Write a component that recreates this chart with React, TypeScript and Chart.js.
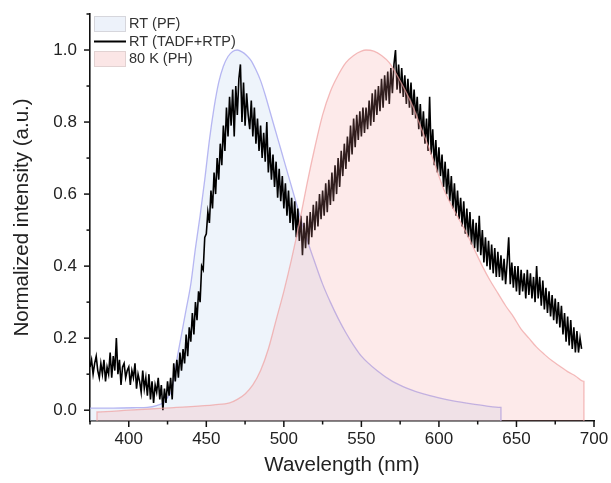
import React, { useEffect, useRef } from "react";
import { Chart, registerables } from "chart.js";

Chart.register(...registerables);

// ---- axis ranges & ticks ----
const X_MIN = 375;
const X_MAX = 700;
const Y_MIN = -0.03;
const Y_MAX = 1.1;
const X_TICKS = [400, 450, 500, 550, 600, 650, 700];
const X_MINOR_TICKS = [375, 425, 475, 525, 575, 625, 675];
const Y_TICKS = [0, 0.2, 0.4, 0.6, 0.8, 1.0];
const Y_MINOR_TICKS = [0.1, 0.3, 0.5, 0.7, 0.9, 1.1];

// ---- series labels ----
const SERIES_LABELS = ["RT (PF)", "RT (TADF+RTP)", "80 K (PH)"];

// ---- RT (PF) prompt fluorescence ----
const PF_WAVELENGTH = [
  375, 390, 405, 412, 418, 422, 425, 428, 431, 434, 437, 440, 443, 446, 449, 452, 455, 458, 461, 464, 467,
  470, 473, 476, 479, 482, 485, 488, 491, 494, 497, 500, 503, 506, 509, 512, 516, 520, 525, 530, 535, 540,
  545, 550, 560, 570, 580, 590, 600, 610, 620, 630, 640, 640,
];
const PF_INTENSITY = [
  0.006, 0.006, 0.007, 0.008, 0.013, 0.02, 0.035, 0.06, 0.14, 0.21, 0.28, 0.35, 0.45, 0.54, 0.64, 0.75, 0.84,
  0.91, 0.955, 0.982, 0.996, 1.0, 0.995, 0.985, 0.97, 0.945, 0.915, 0.875, 0.83, 0.785, 0.74, 0.695, 0.65,
  0.605, 0.56, 0.515, 0.46, 0.41, 0.35, 0.3, 0.255, 0.215, 0.18, 0.15, 0.11, 0.08, 0.06, 0.045, 0.034, 0.025,
  0.018, 0.012, 0.008, -0.03,
];

// ---- 80 K (PH) phosphorescence ----
const PH_WAVELENGTH = [
  379.5, 379.5, 400, 420, 440, 455, 465, 470, 475, 480, 485, 490, 495, 500, 505, 510, 515, 520, 525, 530, 535,
  540, 545, 550, 553, 558, 563, 568, 573, 578, 583, 588, 593, 598, 603, 608, 613, 618, 623, 628, 633, 638, 643,
  648, 653, 658, 663, 668, 673, 678, 683, 688, 693.5, 693.5,
];
const PH_INTENSITY = [
  -0.03, -0.005, 0.0, 0.005, 0.01, 0.015, 0.02, 0.03, 0.045, 0.07, 0.11, 0.17, 0.25, 0.33, 0.42, 0.52, 0.63,
  0.73, 0.82, 0.885, 0.93, 0.965, 0.985, 0.997, 1.0, 0.997, 0.985, 0.965, 0.93, 0.89, 0.845, 0.79, 0.735, 0.675,
  0.615, 0.57, 0.53, 0.49, 0.445, 0.4, 0.36, 0.325, 0.29, 0.26, 0.225, 0.2, 0.175, 0.155, 0.137, 0.122, 0.107,
  0.095, 0.08, -0.03,
];

// ---- RT (TADF+RTP) delayed spectrum, 1 nm steps from 375 nm ----
const TADF_START = 375;
const TADF_STEP = 1;
const TADF_INTENSITY = [
  // 375-399
  0.12, 0.14, 0.1, 0.13, 0.15, 0.11, 0.09, 0.13, 0.1, 0.14, 0.08, 0.12, 0.1, 0.16, 0.09, 0.15, 0.11, 0.2, 0.1, 0.14, 0.07, 0.12, 0.13, 0.09, 0.11,
  // 400-424
  0.12, 0.07, 0.11, 0.09, 0.13, 0.06, 0.1, 0.08, 0.05, 0.11, 0.06, 0.09, 0.04, 0.1, 0.03, 0.08, 0.02, 0.07, 0.05, 0.09, 0.03, 0.07, 0.0, 0.06, 0.02,
  // 425-449
  0.08, 0.04, 0.09, 0.03, 0.13, 0.08, 0.14, 0.09, 0.16, 0.11, 0.17, 0.13, 0.21, 0.15, 0.23, 0.19, 0.27, 0.21, 0.3, 0.25, 0.33, 0.3, 0.4, 0.39, 0.48,
  // 450-474
  0.49, 0.55, 0.52, 0.61, 0.56, 0.66, 0.6, 0.7, 0.64, 0.74, 0.68, 0.79, 0.72, 0.84, 0.76, 0.87, 0.79, 0.89, 0.76, 0.9, 0.82, 0.92, 0.96, 0.8, 0.91,
  // 475-499
  0.79, 0.88, 0.82, 0.78, 0.86, 0.76, 0.84, 0.74, 0.81, 0.72, 0.79, 0.7, 0.77, 0.69, 0.8, 0.66, 0.73, 0.64, 0.71, 0.62, 0.69, 0.59, 0.67, 0.58, 0.65,
  // 500-524
  0.56, 0.63, 0.54, 0.61, 0.52, 0.59, 0.5, 0.58, 0.48, 0.56, 0.47, 0.54, 0.43, 0.52, 0.45, 0.54, 0.46, 0.55, 0.48, 0.57, 0.5, 0.58, 0.51, 0.6, 0.53,
  // 525-549
  0.61, 0.54, 0.63, 0.55, 0.64, 0.57, 0.66, 0.58, 0.68, 0.6, 0.7, 0.62, 0.72, 0.65, 0.74, 0.67, 0.76, 0.69, 0.79, 0.71, 0.81, 0.73, 0.82, 0.75, 0.83,
  // 550-574
  0.76, 0.84, 0.77, 0.84, 0.78, 0.86, 0.79, 0.88, 0.8, 0.89, 0.82, 0.9, 0.83, 0.92, 0.84, 0.93, 0.86, 0.94, 0.85, 0.95, 0.88, 0.96, 1.0, 0.89, 0.96,
  // 575-599
  0.88, 0.95, 0.87, 0.93, 0.85, 0.92, 0.84, 0.91, 0.82, 0.89, 0.81, 0.87, 0.78, 0.85, 0.76, 0.83, 0.74, 0.81, 0.72, 0.87, 0.71, 0.78, 0.68, 0.75, 0.66,
  // 600-624
  0.73, 0.65, 0.71, 0.62, 0.69, 0.6, 0.67, 0.58, 0.65, 0.56, 0.63, 0.54, 0.61, 0.53, 0.59, 0.51, 0.58, 0.49, 0.56, 0.48, 0.55, 0.46, 0.53, 0.45, 0.52,
  // 625-649
  0.44, 0.54, 0.43, 0.5, 0.41, 0.48, 0.4, 0.47, 0.39, 0.46, 0.38, 0.45, 0.37, 0.44, 0.37, 0.43, 0.36, 0.42, 0.35, 0.41, 0.48, 0.35, 0.41, 0.34, 0.4,
  // 650-674
  0.33, 0.4, 0.32, 0.39, 0.33, 0.38, 0.31, 0.39, 0.32, 0.38, 0.31, 0.37, 0.3, 0.4, 0.31, 0.37, 0.29, 0.36, 0.28, 0.34, 0.27, 0.33, 0.26, 0.32, 0.25,
  // 675-692
  0.31, 0.24, 0.3, 0.23, 0.29, 0.21, 0.27, 0.19, 0.26, 0.18, 0.25, 0.17, 0.23, 0.16, 0.22, 0.16, 0.2, 0.17,
];

const FONT = "'Liberation Sans', Arial, Helvetica, sans-serif";

const axisDecorPlugin = {
  id: "axisDecor",
  afterDraw(chart: any) {
    const { ctx, chartArea, scales } = chart;
    const xs = scales.x;
    const ys = scales.y;
    ctx.save();
    ctx.strokeStyle = "#111";
    ctx.lineWidth = 1.5;
    const xTick = (v: number, len: number) => {
      const px = xs.getPixelForValue(v);
      ctx.beginPath();
      ctx.moveTo(px, chartArea.bottom);
      ctx.lineTo(px, chartArea.bottom + len);
      ctx.stroke();
    };
    const yTick = (v: number, len: number) => {
      const py = ys.getPixelForValue(v);
      ctx.beginPath();
      ctx.moveTo(chartArea.left, py);
      ctx.lineTo(chartArea.left - len, py);
      ctx.stroke();
    };
    X_TICKS.forEach((v) => xTick(v, 6));
    X_MINOR_TICKS.forEach((v) => xTick(v, 3.5));
    Y_TICKS.forEach((v) => yTick(v, 6));
    Y_MINOR_TICKS.forEach((v) => yTick(v, 3.5));
    ctx.restore();
  },
};

const insideLegendPlugin = {
  id: "insideLegend",
  afterDraw(chart: any) {
    const { ctx, chartArea } = chart;
    const datasets = chart.data.datasets;
    const x0 = chartArea.left + 4;
    const boxW = 32;
    const boxH = 16;
    const rowH = 17.5;
    ctx.save();
    ctx.font = `14.5px ${FONT}`;
    ctx.textBaseline = "middle";
    ctx.textAlign = "left";
    datasets.forEach((ds: any, i: number) => {
      const cy = chartArea.top + 10 + i * rowH;
      if (ds.fill) {
        ctx.fillStyle = ds.legendFill;
        ctx.fillRect(x0, cy - boxH / 2, boxW, boxH);
        ctx.strokeStyle = ds.legendStroke;
        ctx.lineWidth = 1;
        ctx.strokeRect(x0 + 0.5, cy - boxH / 2 + 0.5, boxW - 1, boxH - 1);
      } else {
        ctx.strokeStyle = ds.borderColor;
        ctx.lineWidth = 2;
        ctx.beginPath();
        ctx.moveTo(x0, cy);
        ctx.lineTo(x0 + boxW, cy);
        ctx.stroke();
      }
      ctx.fillStyle = "#333";
      ctx.fillText(ds.label, x0 + boxW + 3, cy);
    });
    ctx.restore();
  },
};

export default function App() {
  const canvasRef = useRef<HTMLCanvasElement | null>(null);

  useEffect(() => {
    document.body.style.margin = "0";
    const canvas = canvasRef.current;
    if (!canvas) return;

    const pfData = PF_WAVELENGTH.map((x, i) => ({ x, y: PF_INTENSITY[i] }));
    const phData = PH_WAVELENGTH.map((x, i) => ({ x, y: PH_INTENSITY[i] }));
    const tadfData = TADF_INTENSITY.map((y, i) => ({ x: TADF_START + i * TADF_STEP, y }));

    const chart = new Chart(canvas, {
      type: "line",
      data: {
        datasets: [
          {
            label: SERIES_LABELS[0],
            data: pfData,
            borderColor: "rgba(170, 170, 240, 0.85)",
            backgroundColor: "rgba(215, 228, 246, 0.42)",
            borderWidth: 1.3,
            fill: "start",
            pointRadius: 0,
            cubicInterpolationMode: "monotone",
            order: 3,
            legendFill: "rgba(225, 234, 247, 0.6)",
            legendStroke: "#d6d6dc",
          } as any,
          {
            label: SERIES_LABELS[1],
            data: tadfData,
            borderColor: "#000",
            borderWidth: 1.6,
            fill: false,
            pointRadius: 0,
            tension: 0,
            order: 2,
          } as any,
          {
            label: SERIES_LABELS[2],
            data: phData,
            borderColor: "rgba(240, 160, 160, 0.7)",
            backgroundColor: "rgba(245, 150, 150, 0.2)",
            borderWidth: 1.3,
            fill: "start",
            pointRadius: 0,
            cubicInterpolationMode: "monotone",
            order: 1,
            legendFill: "rgba(250, 220, 220, 0.7)",
            legendStroke: "#e2d2d2",
          } as any,
        ],
      },
      options: {
        animation: false,
        responsive: false,
        maintainAspectRatio: false,
        layout: { padding: { left: 0, top: 14, right: 17, bottom: 0 } },
        plugins: {
          legend: { display: false },
          tooltip: { enabled: false },
        },
        scales: {
          x: {
            type: "linear",
            min: X_MIN,
            max: X_MAX,
            grid: { display: false, drawTicks: false },
            border: { display: true, color: "#111", width: 1.6 },
            afterBuildTicks: (scale: any) => {
              scale.ticks = X_TICKS.map((value) => ({ value }));
            },
            afterFit: (scale: any) => {
              scale.height = 62;
              scale.paddingLeft = 0;
              scale.paddingRight = 0;
            },
            ticks: {
              padding: 8,
              color: "#222",
              font: { size: 17, family: FONT },
              maxRotation: 0,
              autoSkip: false,
              callback: (v: any) => String(v),
            },
            title: {
              display: true,
              text: "Wavelength (nm)",
              color: "#222",
              font: { size: 20.5, family: FONT },
              padding: { top: 0, bottom: 5 },
            },
          },
          y: {
            type: "linear",
            min: Y_MIN,
            max: Y_MAX,
            grid: { display: false, drawTicks: false },
            border: { display: true, color: "#111", width: 1.6 },
            afterBuildTicks: (scale: any) => {
              scale.ticks = Y_TICKS.map((value) => ({ value }));
            },
            afterFit: (scale: any) => {
              scale.width = 90;
              scale.paddingTop = 0;
              scale.paddingBottom = 0;
            },
            ticks: {
              padding: 13,
              color: "#222",
              font: { size: 17, family: FONT },
              autoSkip: false,
              callback: (v: any) => Number(v).toFixed(1),
            },
            title: {
              display: true,
              text: "Normalized intensity (a.u.)",
              color: "#222",
              font: { size: 20.5, family: FONT },
              padding: { top: 10, bottom: 0 },
            },
          },
        },
      },
      plugins: [axisDecorPlugin, insideLegendPlugin],
    });

    return () => {
      chart.destroy();
    };
  }, []);

  return (
    <div style={{ width: 611, height: 483 }}>
      <canvas ref={canvasRef} width={611} height={483} style={{ display: "block" }} />
    </div>
  );
}
